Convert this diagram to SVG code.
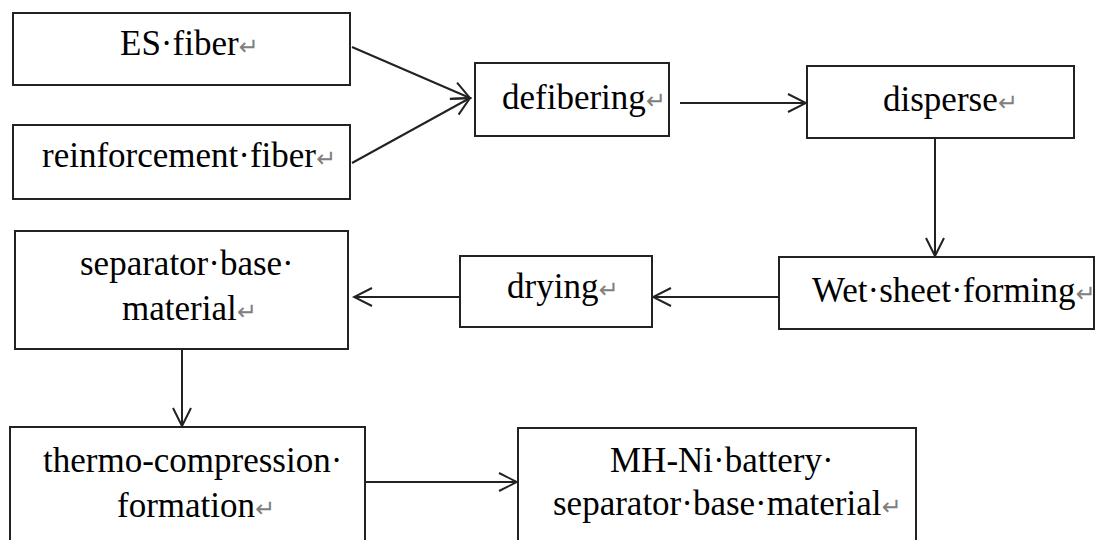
<svg xmlns="http://www.w3.org/2000/svg" width="1095" height="540" viewBox="0 0 1095 540">
  <style>
    .box { fill: #ffffff; stroke: #222222; stroke-width: 2; }
    .lbl { font-family: "Liberation Serif", "Times New Roman", serif; font-size: 35px; fill: #000000; }
    .ret { font-family: "DejaVu Sans", sans-serif; font-size: 24px; fill: #808080; }
    .conn { fill: none; stroke: #222222; stroke-width: 2; marker-end: url(#arr); }
  </style>
  <defs>
    <marker id="arr" viewBox="-22 -12 24 24" refX="0" refY="0" markerWidth="24" markerHeight="24" markerUnits="userSpaceOnUse" orient="auto">
      <path d="M-18,-9 L0,0 L-18,9" fill="none" stroke="#222222" stroke-width="2"/>
    </marker>
  </defs>
  <rect width="1095" height="540" fill="#ffffff"/>

  <g id="connectors">
    <path class="conn" d="M352,47 L470,98"/>
    <path class="conn" d="M352,163 L470,98"/>
    <path class="conn" d="M680,103 L806,103"/>
    <path class="conn" d="M935,138 L935,256"/>
    <path class="conn" d="M779,297 L653,297"/>
    <path class="conn" d="M460,297 L354,297"/>
    <path class="conn" d="M182,349 L182,426"/>
    <path class="conn" d="M365,482 L517,482"/>
  </g>

  <g id="es-fiber">
    <rect class="box" x="13" y="13" width="337" height="72"/>
    <text class="lbl" x="120" y="55">ES·fiber<tspan class="ret">↵</tspan></text>
  </g>
  <g id="reinforcement-fiber">
    <rect class="box" x="13" y="125" width="337" height="74"/>
    <text class="lbl" x="42" y="167">reinforcement·fiber<tspan class="ret">↵</tspan></text>
  </g>
  <g id="defibering">
    <rect class="box" x="475" y="63" width="194" height="73"/>
    <text class="lbl" x="502" y="109">defibering<tspan class="ret">↵</tspan></text>
  </g>
  <g id="disperse">
    <rect class="box" x="807" y="66" width="267" height="72"/>
    <text class="lbl" x="883" y="111">disperse<tspan class="ret">↵</tspan></text>
  </g>
  <g id="wet-sheet-forming">
    <rect class="box" x="779" y="257" width="315" height="72"/>
    <text class="lbl" x="812" y="302">Wet·sheet·forming<tspan class="ret">↵</tspan></text>
  </g>
  <g id="drying">
    <rect class="box" x="460" y="256" width="192" height="71"/>
    <text class="lbl" x="507" y="298">drying<tspan class="ret">↵</tspan></text>
  </g>
  <g id="separator-base-material">
    <rect class="box" x="15" y="231" width="333" height="118"/>
    <text class="lbl" x="80" y="275">separator·base·</text>
    <text class="lbl" x="122" y="320">material<tspan class="ret">↵</tspan></text>
  </g>
  <g id="thermo-compression">
    <rect class="box" x="10" y="427" width="355" height="120"/>
    <text class="lbl" x="43" y="472">thermo-compression·</text>
    <text class="lbl" x="117" y="517">formation<tspan class="ret">↵</tspan></text>
  </g>
  <g id="mh-ni">
    <rect class="box" x="518" y="428" width="398" height="120"/>
    <text class="lbl" x="610" y="472">MH-Ni·battery·</text>
    <text class="lbl" x="553" y="515">separator·base·material<tspan class="ret">↵</tspan></text>
  </g>
</svg>
